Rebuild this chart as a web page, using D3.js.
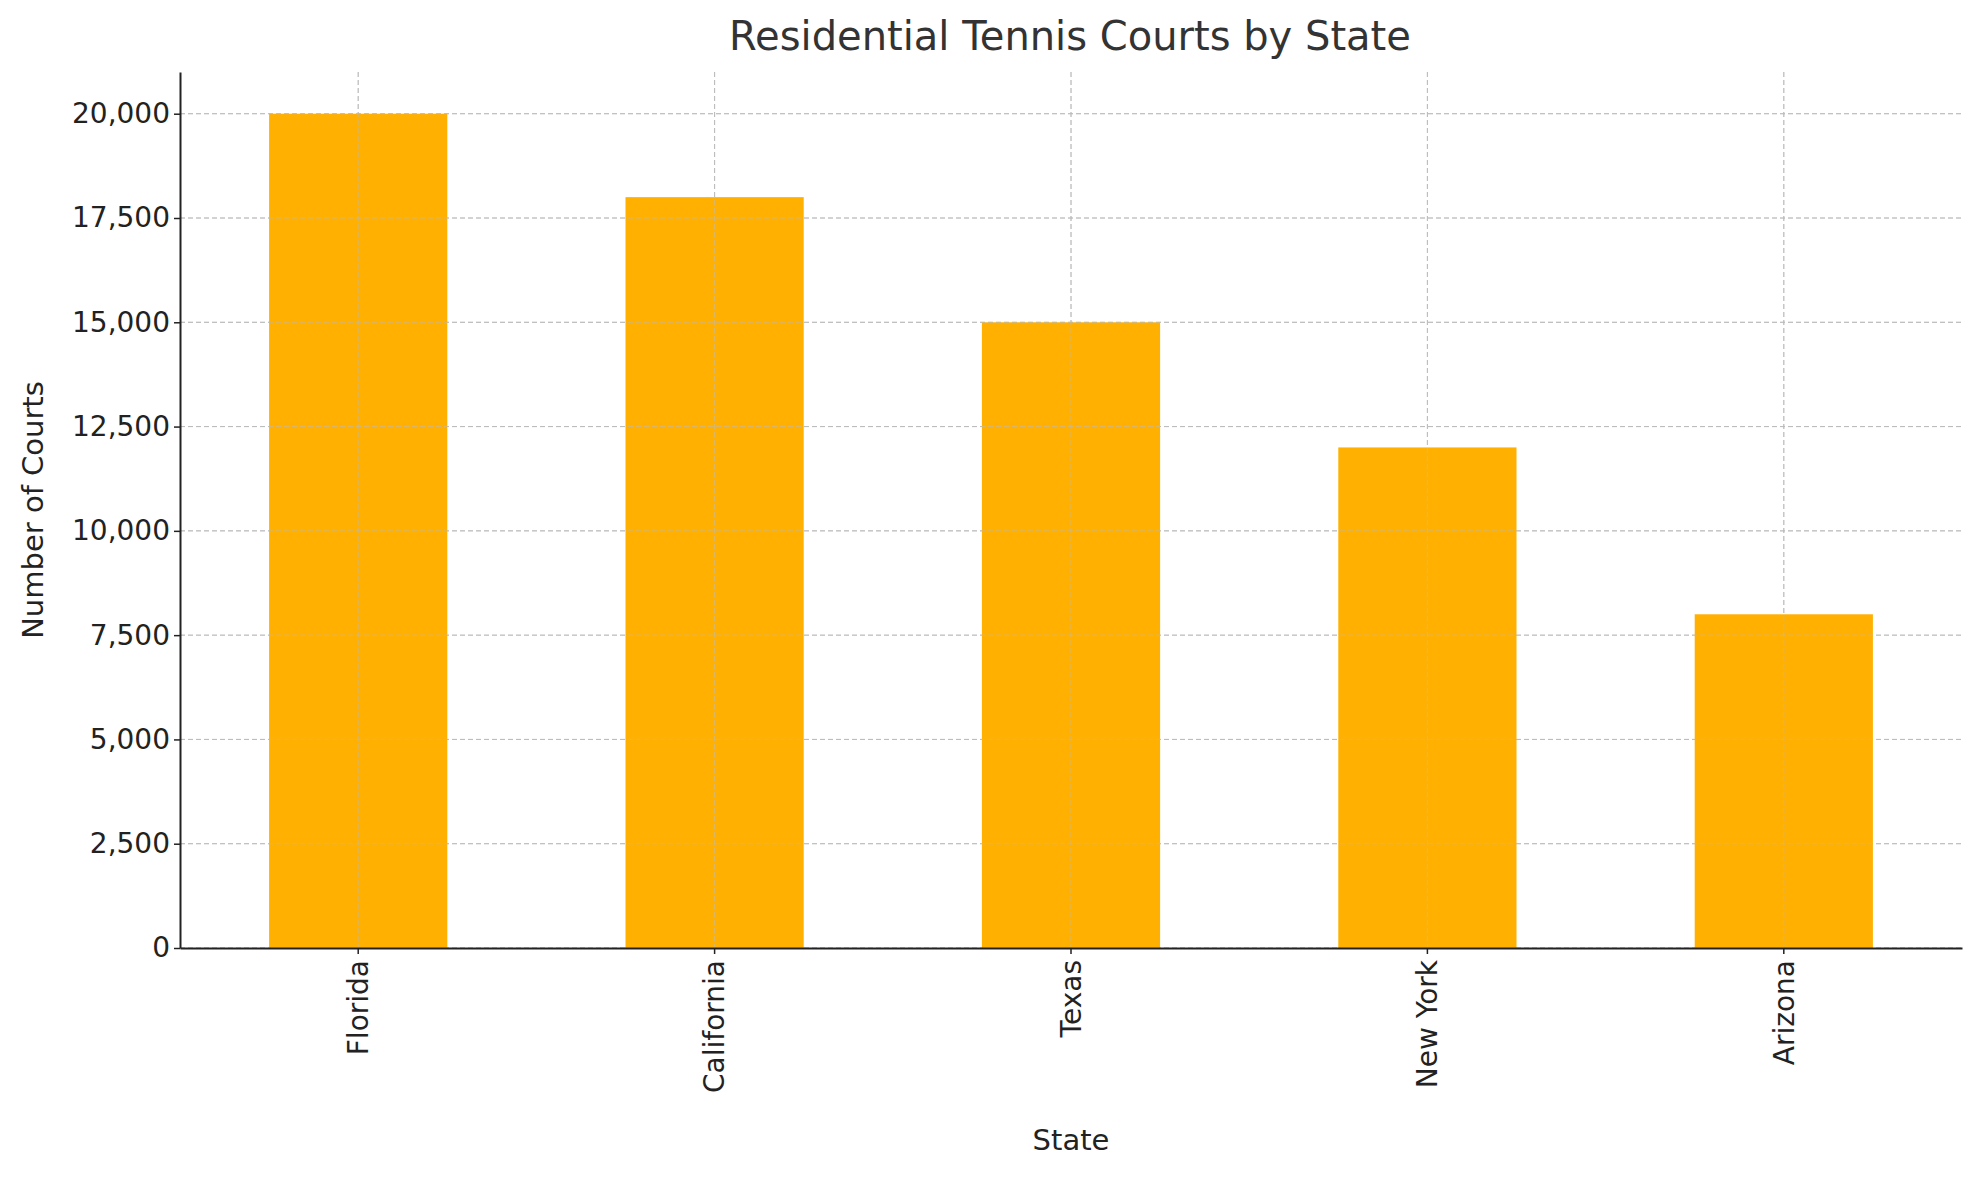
<!DOCTYPE html>
<html><head><meta charset="utf-8">
<script src="https://cdn.jsdelivr.net/npm/d3@7"></script>
<style>body{margin:0;background:#fff}text{font-family:"DejaVu Sans",sans-serif;fill:#222}</style>
</head><body><svg id="c" width="1980" height="1180"></svg>
<script>
const states = ["Florida","California","Texas","New York","Arizona"];
const courts = [20000,18000,15000,12000,8000];
const yTicks = [0,2500,5000,7500,10000,12500,15000,17500,20000];

const svg = d3.select("#c");
const L=180,R=1962,T=72,B=948;
const x = d3.scaleBand().domain(states).range([L,R]).paddingInner(0.5).paddingOuter(0.25);
const y = d3.scaleLinear().domain([0,21000]).range([B,T]);

// grid
svg.append("g").selectAll("line").data(yTicks).join("line")
  .attr("x1",L).attr("x2",R).attr("y1",d=>y(d)).attr("y2",d=>y(d))
  .attr("stroke","#bbb").attr("stroke-dasharray","5,3").attr("stroke-width",1);
svg.append("g").selectAll("line").data(states).join("line")
  .attr("y1",T).attr("y2",B).attr("x1",d=>x(d)+x.bandwidth()/2).attr("x2",d=>x(d)+x.bandwidth()/2)
  .attr("stroke","#bbb").attr("stroke-dasharray","5,3").attr("stroke-width",1);

svg.append("g").selectAll("rect").data(states).join("rect")
  .attr("x",d=>x(d)).attr("width",x.bandwidth())
  .attr("y",(d,i)=>y(courts[i])).attr("height",(d,i)=>B-y(courts[i]))
  .attr("fill","#FFB000");

// re-draw vertical grid on top faintly (matplotlib draws grid above bars here)
svg.append("g").selectAll("line").data(states).join("line")
  .attr("y1",T).attr("y2",B).attr("x1",d=>x(d)+x.bandwidth()/2).attr("x2",d=>x(d)+x.bandwidth()/2)
  .attr("stroke","#bbb").attr("stroke-opacity",0.6).attr("stroke-dasharray","5,3");
svg.append("g").selectAll("line").data(yTicks).join("line")
  .attr("x1",L).attr("x2",R).attr("y1",d=>y(d)).attr("y2",d=>y(d))
  .attr("stroke","#bbb").attr("stroke-opacity",0.6).attr("stroke-dasharray","5,3");

const xa = svg.append("g").attr("transform",`translate(0,${B})`)
  .call(d3.axisBottom(x).tickSize(6).tickSizeOuter(0));
xa.select(".domain").attr("stroke","#222").attr("stroke-width",2);
xa.selectAll(".tick line").attr("stroke","#222").attr("stroke-width",1.5);
xa.selectAll("text").attr("font-size",29/1.05).attr("transform","rotate(-90)")
  .attr("text-anchor","end").attr("x",-12).attr("y",0).attr("dy","0.35em").style("font-size","28px");

const ya = svg.append("g").attr("transform",`translate(${L},0)`)
  .call(d3.axisLeft(y).tickValues(yTicks).tickSize(6).tickSizeOuter(0));
ya.select(".domain").attr("stroke","#222").attr("stroke-width",2);
ya.selectAll(".tick line").attr("stroke","#222").attr("stroke-width",1.5);
ya.selectAll("text").style("font-size","28px").attr("x",-10);

svg.append("text").attr("x",1070).attr("y",50).attr("text-anchor","middle")
  .style("font-size","40px").style("fill","#333").text("Residential Tennis Courts by State");
svg.append("text").attr("x",(L+R)/2).attr("y",1150).attr("text-anchor","middle")
  .style("font-size","29px").text("State");
svg.append("text").attr("transform",`translate(43,${(T+B)/2}) rotate(-90)`).attr("text-anchor","middle")
  .style("font-size","29px").text("Number of Courts");
</script></body></html>
